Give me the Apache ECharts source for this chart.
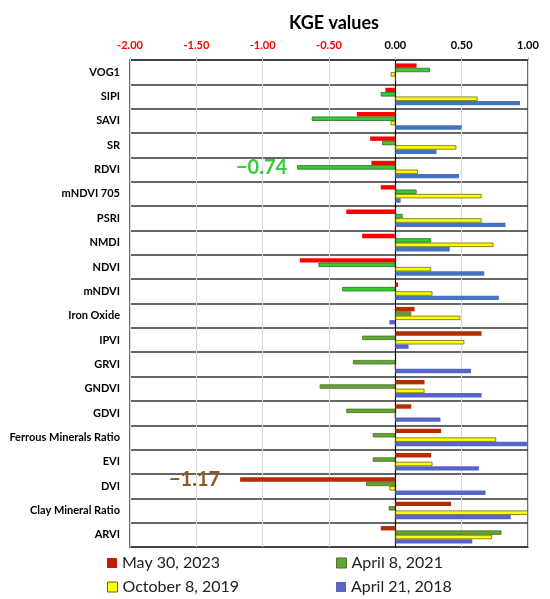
<!DOCTYPE html>
<html>
<head>
<meta charset="utf-8">
<script src="https://cdn.jsdelivr.net/npm/echarts@6/dist/echarts.min.js"></script>
<style>
html,body{margin:0;padding:0;background:#fff;}
#chart{width:550px;height:599px;}
</style>
</head>
<body>
<div id="chart"></div>
<script>
const categories = ['VOG1','SIPI','SAVI','SR','RDVI','mNDVI 705','PSRI','NMDI','NDVI','mNDVI','Iron Oxide','IPVI','GRVI','GNDVI','GDVI','Ferrous Minerals Ratio','EVI','DVI','Clay Mineral Ratio','ARVI'];
const may2023 = [0.16,-0.075,-0.29,-0.19,-0.18,-0.11,-0.37,-0.25,-0.72,0.02,0.145,0.65,0,0.22,0.12,0.345,0.27,-1.17,0.42,-0.11];
const apr2021 = [0.26,-0.11,-0.63,-0.10,-0.74,0.16,0.055,0.27,-0.58,-0.40,0.12,-0.25,-0.32,-0.57,-0.37,-0.17,-0.17,-0.22,-0.05,0.80];
const oct2019 = [-0.035,0.62,-0.035,0.46,0.17,0.65,0.65,0.74,0.27,0.28,0.49,0.52,0,0.22,0,0.76,0.28,-0.045,1.00,0.73];
const apr2018 = [0.005,0.94,0.50,0.31,0.48,0.04,0.83,0.41,0.67,0.78,-0.045,0.10,0.57,0.65,0.34,1.00,0.63,0.68,0.87,0.58];
const seriesNames = ['May 30, 2023','April 8, 2021','October 8, 2019','April 21, 2018'];
const tickMin = -2, tickMax = 1, tickStep = 0.5;
// callouts: [seriesIndex, categoryIndex]
const callouts = [[1, 4], [0, 17]];

const FONT = 'Lato, "Open Sans", sans-serif';
const styles = [
  {top:{color:'#FF0000'}, bottom:{color:'#B32D00'}, label:'#8B5A1E'},
  {top:{color:'#33CC33', borderColor:'#2A6E2A', borderWidth:0.8}, bottom:{color:'#58A83A', borderColor:'#5E6B1E', borderWidth:0.8}, label:'#3CC83C'},
  {top:{color:'#FFFF00', borderColor:'#6B6B00', borderWidth:0.8}, bottom:{color:'#FFFF00', borderColor:'#6B6B00', borderWidth:0.8}},
  {top:{color:'#4472C4'}, bottom:{color:'#5864C8'}}
];
const legendColors = [
  {color:'#C0200A'},
  {color:'#58A83A', borderColor:'#5E6B1E', borderWidth:1},
  {color:'#FFFF00', borderColor:'#6B6B00', borderWidth:1},
  {color:'#5864C8'}
];
const legendPos = [[102, 550], [331, 550], [102, 574], [331, 574]];
const allData = [may2023, apr2021, oct2019, apr2018];

function fmtMinus(v){ return '\u2212' + Math.abs(v).toFixed(2); }

const series = allData.map((arr, si) => ({
  name: seriesNames[si],
  type: 'bar',
  barGap: '0%',
  barCategoryGap: '28%',
  data: arr.map((v, ci) => {
    const item = { value: v, itemStyle: ci >= 10 ? styles[si].bottom : styles[si].top };
    const co = callouts.find(c => c[0] === si && c[1] === ci);
    if (co) {
      item.label = {
        show: true, position: 'left', distance: si === 0 ? 20 : 10,
        formatter: p => fmtMinus(p.value),
        color: styles[si].label, fontSize: 20, fontWeight: 'bold', fontFamily: FONT
      };
    }
    return item;
  })
}));

const legends = seriesNames.map((n, i) => ({
  left: legendPos[i][0], top: legendPos[i][1], itemWidth: 10, itemHeight: 10, icon: 'rect',
  textStyle: { fontSize: 16, color: '#222', fontFamily: FONT },
  data: [{ name: n, itemStyle: legendColors[i] }]
}));

const chart = echarts.init(document.getElementById('chart'));
chart.setOption({
  animation: false,
  backgroundColor: '#fff',
  title: {
    text: 'KGE values', left: 329, top: 9, textAlign: 'center',
    textStyle: { fontSize: 18, fontWeight: 'bold', color: '#000', fontFamily: FONT }
  },
  legend: legends,
  grid: { left: 130, right: 22, top: 60, bottom: 52, show: true, borderColor: '#404040', borderWidth: 1.5 },
  xAxis: {
    type: 'value', position: 'top', min: tickMin, max: tickMax, interval: tickStep,
    axisLine: { show: false },
    axisTick: { show: true, length: 3, lineStyle: { color: '#bfbfbf' } },
    splitLine: { show: true, lineStyle: { color: '#d9d9d9', width: 1 } },
    axisLabel: {
      margin: 9, fontSize: 11, fontWeight: 'bold', fontFamily: FONT,
      formatter: v => v.toFixed(2),
      color: v => (v < 0 ? '#FF0000' : '#000')
    }
  },
  yAxis: {
    type: 'category', inverse: true, data: categories,
    axisLine: { show: true, lineStyle: { color: '#000', width: 1.2 } },
    axisTick: { show: false },
    splitLine: { show: true, lineStyle: { color: '#333', width: 1.5 } },
    axisLabel: { margin: 10, fontSize: 11, fontWeight: 'bold', color: '#000', fontFamily: FONT }
  },
  series: series
});
</script>
</body>
</html>
